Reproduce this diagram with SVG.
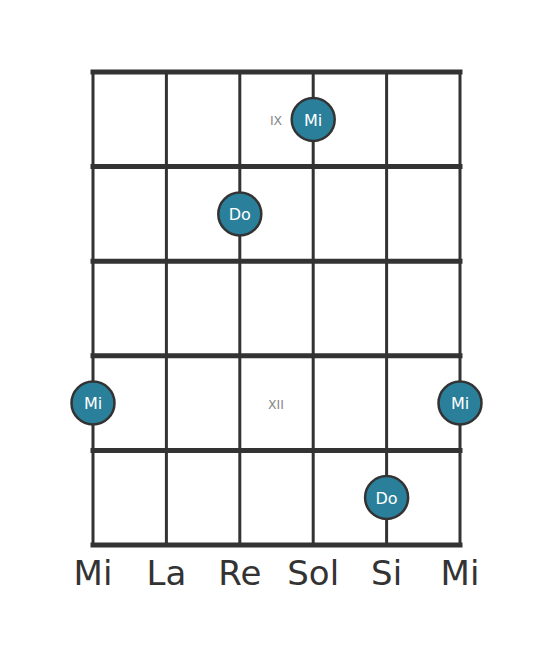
<svg xmlns="http://www.w3.org/2000/svg" width="553" height="656" viewBox="0 0 553 656">
<style>
.fret{stroke:#333;stroke-width:5;stroke-linecap:square}
.str{stroke:#333;stroke-width:3}
.dot circle{fill:#2a7f9b;stroke:#333;stroke-width:2.5}
.dot text{fill:#fff;font-family:"DejaVu Sans",sans-serif;font-size:16px;text-anchor:middle}
.pos{fill:#888;font-family:"DejaVu Sans",sans-serif;font-size:12.5px;text-anchor:middle}
.lbl{fill:#333;font-family:"DejaVu Sans",sans-serif;font-size:34px;text-anchor:middle}
</style>
<rect width="553" height="656" fill="#fff"/>
<g id="connectors">
<line class="str" x1="93" y1="72" x2="93" y2="545"/>
<line class="str" x1="166.4" y1="72" x2="166.4" y2="545"/>
<line class="str" x1="239.8" y1="72" x2="239.8" y2="545"/>
<line class="str" x1="313.2" y1="72" x2="313.2" y2="545"/>
<line class="str" x1="386.6" y1="72" x2="386.6" y2="545"/>
<line class="str" x1="460" y1="72" x2="460" y2="545"/>
<line class="fret" x1="93" y1="72" x2="460" y2="72"/>
<line class="fret" x1="93" y1="166.6" x2="460" y2="166.6"/>
<line class="fret" x1="93" y1="261.2" x2="460" y2="261.2"/>
<line class="fret" x1="93" y1="355.8" x2="460" y2="355.8"/>
<line class="fret" x1="93" y1="450.4" x2="460" y2="450.4"/>
<line class="fret" x1="93" y1="545" x2="460" y2="545"/>
</g>
<text class="pos" x="276" y="125">IX</text>
<text class="pos" x="276" y="408.5">XII</text>
<g id="n1" class="dot"><circle cx="313.2" cy="119.5" r="21.5"/><text x="313.2" y="125.5">Mi</text></g>
<g id="n2" class="dot"><circle cx="239.8" cy="214" r="21.5"/><text x="239.8" y="220">Do</text></g>
<g id="n3" class="dot"><circle cx="93" cy="403" r="21.5"/><text x="93" y="409">Mi</text></g>
<g id="n4" class="dot"><circle cx="460" cy="403" r="21.5"/><text x="460" y="409">Mi</text></g>
<g id="n5" class="dot"><circle cx="386.6" cy="497.5" r="21.5"/><text x="386.6" y="503.5">Do</text></g>
<g id="labels">
<text class="lbl" x="93" y="585">Mi</text>
<text class="lbl" x="166.4" y="585">La</text>
<text class="lbl" x="239.8" y="585">Re</text>
<text class="lbl" x="313.2" y="585">Sol</text>
<text class="lbl" x="386.6" y="585">Si</text>
<text class="lbl" x="460" y="585">Mi</text>
</g>
</svg>
